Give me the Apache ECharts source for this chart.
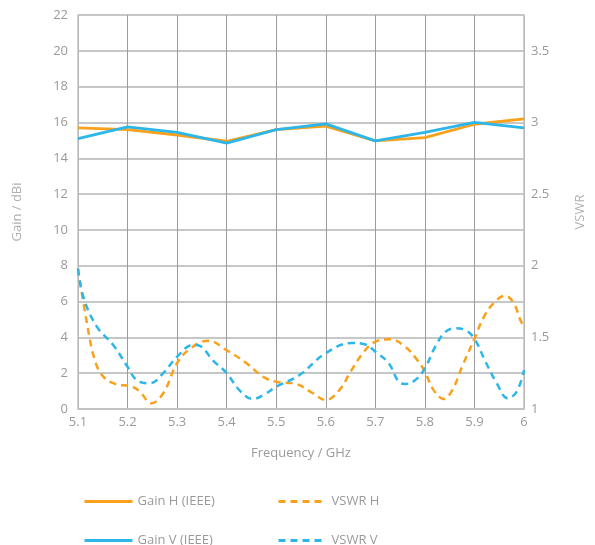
<!DOCTYPE html>
<html>
<head>
<meta charset="utf-8">
<script src="https://cdn.jsdelivr.net/npm/echarts@6/dist/echarts.min.js"></script>
<style>
  html, body { margin: 0; padding: 0; background: #fff; }
  #chart { width: 595px; height: 545px; }
</style>
</head>
<body>
<div id="chart"></div>
<script>
// gain curves, one value per 0.1 GHz
const gainFreq = [5.1, 5.2, 5.3, 5.4, 5.5, 5.6, 5.7, 5.8, 5.9, 6.0]
const gainH = [15.7, 15.6, 15.3, 14.95, 15.6, 15.8, 14.97, 15.15, 15.9, 16.2]
const gainV = [15.1, 15.75, 15.45, 14.85, 15.6, 15.92, 14.97, 15.45, 16.0, 15.7]

// VSWR curves, points
const vswrHFreq = [5.1, 5.117, 5.134, 5.151, 5.175, 5.209, 5.225, 5.248, 5.272, 5.3, 5.326, 5.363, 5.4, 5.44, 5.473, 5.5, 5.54, 5.574, 5.6, 5.627, 5.65, 5.677, 5.7, 5.73, 5.76, 5.785, 5.8, 5.818, 5.838, 5.855, 5.875, 5.9, 5.921, 5.945, 5.962, 5.979, 5.994, 6.0]
const vswrH = [1.98, 1.62, 1.34, 1.226, 1.175, 1.156, 1.12, 1.04, 1.11, 1.32, 1.42, 1.477, 1.41, 1.32, 1.226, 1.19, 1.175, 1.11, 1.063, 1.13, 1.26, 1.40, 1.47, 1.487, 1.435, 1.34, 1.26, 1.13, 1.07, 1.13, 1.295, 1.49, 1.656, 1.76, 1.79, 1.74, 1.61, 1.58]
const vswrVFreq = [5.1, 5.111, 5.138, 5.171, 5.2, 5.219, 5.245, 5.272, 5.3, 5.332, 5.346, 5.372, 5.4, 5.426, 5.453, 5.48, 5.5, 5.547, 5.6, 5.653, 5.68, 5.7, 5.727, 5.747, 5.76, 5.78, 5.8, 5.821, 5.842, 5.862, 5.882, 5.9, 5.921, 5.945, 5.967, 5.985, 6.0]
const vswrV = [1.98, 1.78, 1.575, 1.447, 1.295, 1.20, 1.18, 1.25, 1.365, 1.447, 1.44, 1.34, 1.25, 1.13, 1.07, 1.11, 1.156, 1.237, 1.39, 1.46, 1.45, 1.40, 1.32, 1.19, 1.175, 1.20, 1.284, 1.435, 1.54, 1.563, 1.55, 1.49, 1.34, 1.18, 1.075, 1.12, 1.27]

const names = ['Gain H (IEEE)', 'Gain V (IEEE)', 'VSWR H', 'VSWR V']
const orange = '#f9a11b'
const blue = '#2cb6ea'
const txt = '#9a9a9a'
const font = 'Open Sans'

const pairs = (xs, ys) => xs.map((x, i) => [x, ys[i]])

const legendAt = (name, left, top) => ({
  data: [name],
  left: left,
  top: top,
  itemWidth: 48,
  itemHeight: 10,
  itemGap: 10,
  itemStyle: { opacity: 0, borderWidth: 0 },
  lineStyle: { width: 3 },
  textStyle: { color: txt, fontSize: 13, fontFamily: font }
})

const option = {
  animation: false,
  grid: { left: 78, right: 70, top: 15, bottom: 136 },
  legend: [
    legendAt(names[0], 78, 490),
    legendAt(names[2], 272, 490),
    legendAt(names[1], 78, 529),
    legendAt(names[3], 272, 529)
  ],
  xAxis: {
    type: 'value',
    min: 5.1,
    max: 6.0,
    interval: 0.1,
    name: 'Frequency / GHz',
    nameLocation: 'middle',
    nameGap: 38,
    nameTextStyle: { color: txt, fontSize: 13, fontFamily: font },
    axisLine: { lineStyle: { color: '#c2c2c2', width: 1.5 } },
    axisTick: { show: false },
    axisLabel: { color: txt, fontSize: 13, fontFamily: font, margin: 7 },
    splitLine: { show: true, lineStyle: { color: '#9c9c9c', width: 1 } }
  },
  yAxis: [
    {
      type: 'value',
      min: 0,
      max: 22,
      interval: 2,
      name: 'Gain / dBi',
      nameLocation: 'middle',
      nameGap: 54,
      nameTextStyle: { color: '#b0b0b0', fontSize: 13, fontFamily: font },
      axisLine: { show: true, lineStyle: { color: '#c2c2c2', width: 1.5 } },
      axisTick: { show: false },
      axisLabel: { color: txt, fontSize: 13, fontFamily: font, margin: 10 },
      splitLine: { lineStyle: { color: '#b4b4b4', width: 1.5 } }
    },
    {
      type: 'value',
      min: 1,
      max: 3.75,
      interval: 0.5,
      position: 'right',
      name: 'VSWR',
      nameLocation: 'middle',
      nameGap: 50,
      nameRotate: 90,
      nameTextStyle: { color: '#b0b0b0', fontSize: 13, fontFamily: font },
      axisLine: { show: true, lineStyle: { color: '#c2c2c2', width: 1.5 } },
      axisTick: { show: false },
      axisLabel: { color: txt, fontSize: 13, fontFamily: font, margin: 7, showMaxLabel: false },
      splitLine: { show: false }
    }
  ],
  series: [
    {
      name: names[0], type: 'line', symbol: 'none', yAxisIndex: 0,
      data: pairs(gainFreq, gainH),
      itemStyle: { color: orange },
      lineStyle: { color: orange, width: 2.8 }
    },
    {
      name: names[1], type: 'line', symbol: 'none', yAxisIndex: 0,
      data: pairs(gainFreq, gainV),
      itemStyle: { color: blue },
      lineStyle: { color: blue, width: 2.8 }
    },
    {
      name: names[2], type: 'line', symbol: 'none', yAxisIndex: 1, smooth: 0.4,
      data: pairs(vswrHFreq, vswrH),
      itemStyle: { color: orange },
      lineStyle: { color: orange, width: 2.5, type: [7, 5] }
    },
    {
      name: names[3], type: 'line', symbol: 'none', yAxisIndex: 1, smooth: 0.4,
      data: pairs(vswrVFreq, vswrV),
      itemStyle: { color: blue },
      lineStyle: { color: blue, width: 2.5, type: [7, 5] }
    }
  ]
}

const myChart = echarts.init(document.getElementById('chart'))
option && myChart.setOption(option)
</script>
</body>
</html>
